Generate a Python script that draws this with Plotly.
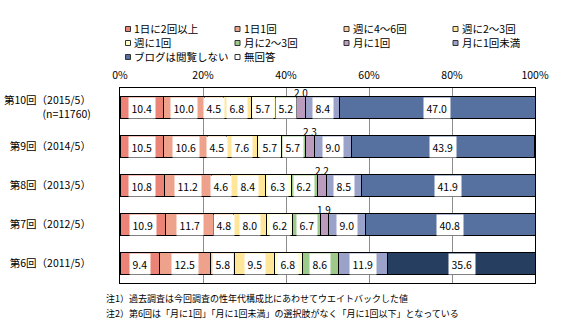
import plotly.graph_objects as go

# ---- data ----
rounds = ["第10回（2015/5）<br>(n=11760)", "第9回（2014/5）", "第8回（2013/5）",
          "第7回（2012/5）", "第6回（2011/5）"]
series_names = ["1日に2回以上", "1日1回", "週に4～6回", "週に2～3回", "週に1回",
                "月に2～3回", "月に1回", "月に1回未満", "ブログは閲覧しない", "無回答"]
v_2plus_day = [10.4, 10.5, 10.8, 10.9, 9.4]
v_1_day = [10.0, 10.6, 11.2, 11.7, 12.5]
v_4to6_week = [4.5, 4.5, 4.6, 4.8, 5.8]
v_2to3_week = [6.8, 7.6, 8.4, 8.0, 9.5]
v_1_week = [5.7, 5.7, 6.3, 6.2, 6.8]
v_2to3_month = [5.2, 5.7, 6.2, 6.7, 8.6]
v_1_month = [2.0, 2.3, 2.2, 1.9, None]
v_less_month = [8.4, 9.0, 8.5, 9.0, 11.9]
v_no_read = [47.0, 43.9, 41.9, 40.8, 35.6]
v_no_answer = [0, 0, 0, 0, 0]
series_values = [v_2plus_day, v_1_day, v_4to6_week, v_2to3_week, v_1_week,
                 v_2to3_month, v_1_month, v_less_month, v_no_read, v_no_answer]

colors = ["#EB8477", "#EEA28C", "#FBCB9E", "#FFE699", "#FFFFC8",
          "#9DC98A", "#BB9BBE", "#9AA2C9", "#5670A0", "#FFFFFF"]
no_read_colors = ["#5670A0", "#5670A0", "#5670A0", "#5670A0", "#263F60"]

notes = ["注1）過去調査は今回調査の性年代構成比にあわせてウエイトバックした値",
         "注2）第6回は「月に1回」「月に1回未満」の選択肢がなく「月に1回以下」となっている"]
x_ticks = [0, 20, 40, 60, 80, 100]

FONT = "Noto Sans CJK JP, Noto Sans, sans-serif"
W, H = 570, 334
ML, MR, MT, MB = 120, 35, 88, 51
PW, PH = W - ML - MR, H - MT - MB

fig = go.Figure()
for i, (name, vals) in enumerate(zip(series_names, series_values)):
    mc = no_read_colors if name == "ブログは閲覧しない" else colors[i]
    fig.add_trace(go.Bar(
        name=name, y=rounds, x=[v if v is not None else 0 for v in vals],
        orientation="h", width=0.58,
        marker=dict(color=mc, line=dict(color="#000000", width=1)),
        showlegend=False, hoverinfo="x+name",
    ))

# value labels
annotations = []
for j, r in enumerate(rounds):
    cum = 0.0
    for vals in series_values:
        v = vals[j]
        if v is None or v == 0:
            continue
        mid = cum + v / 2
        if v >= 3:
            annotations.append(dict(x=mid, y=r, xref="x", yref="y", text=f"{v:.1f}",
                                    showarrow=False, bgcolor="white", borderpad=2.5,
                                    font=dict(size=10.5, color="black", family=FONT)))
        else:
            annotations.append(dict(x=mid, y=r, xref="x", yref="y", text=f"{v:.1f}",
                                    showarrow=False, yshift=15,
                                    font=dict(size=10, color="black", family=FONT)))
        cum += v

# manual legend (4 columns x 3 rows)
col_px = [128, 237.5, 346.5, 455.5]
row_px = [29, 43, 57]
shapes = []
for k, name in enumerate(series_names):
    cx = col_px[k % 4]
    cy = row_px[k // 4]
    x0 = (cx - 2.5 - ML) / PW
    x1 = (cx + 2.5 - ML) / PW
    y0 = (H - MB - (cy + 2.5)) / PH
    y1 = (H - MB - (cy - 2.5)) / PH
    shapes.append(dict(type="rect", xref="paper", yref="paper", x0=x0, x1=x1,
                       y0=y0, y1=y1, fillcolor=colors[k],
                       line=dict(color="#333333", width=1)))
    annotations.append(dict(x=(cx + 4 - ML) / PW, y=(H - MB - cy) / PH,
                            xref="paper", yref="paper", text=name, showarrow=False,
                            xanchor="left", yanchor="middle",
                            font=dict(size=10.5, color="black", family=FONT)))

for n, t in enumerate(notes):
    annotations.append(dict(x=(104 - ML) / PW, y=(H - MB - (298 + 15 * n)) / PH,
                            xref="paper", yref="paper", text=t, showarrow=False,
                            xanchor="left", yanchor="middle",
                            font=dict(size=9, color="black", family=FONT)))

fig.update_layout(
    barmode="stack",
    width=W, height=H,
    margin=dict(l=ML, r=MR, t=MT, b=MB, autoexpand=False),
    paper_bgcolor="white", plot_bgcolor="white",
    font=dict(family=FONT, size=11, color="black"),
    annotations=annotations,
    shapes=shapes,
    showlegend=False,
)
fig.update_xaxes(
    side="top", range=[0, 100], tickvals=x_ticks,
    ticktext=[f"{t}%" for t in x_ticks],
    showgrid=True, gridcolor="#8C8C8C", gridwidth=1,
    showline=True, linecolor="black", linewidth=1, mirror=True,
    zeroline=False, ticks="", tickfont=dict(size=10.5, family=FONT),
    ticklabelstandoff=4, automargin=False, fixedrange=True,
)
fig.update_yaxes(
    autorange="reversed", categoryorder="array", categoryarray=rounds,
    showline=True, linecolor="black", linewidth=1, mirror=True,
    showgrid=False, ticks="", ticklabelstandoff=26, automargin=False,
    tickfont=dict(size=10.5, family=FONT), fixedrange=True,
)

fig.write_html("out.html")
